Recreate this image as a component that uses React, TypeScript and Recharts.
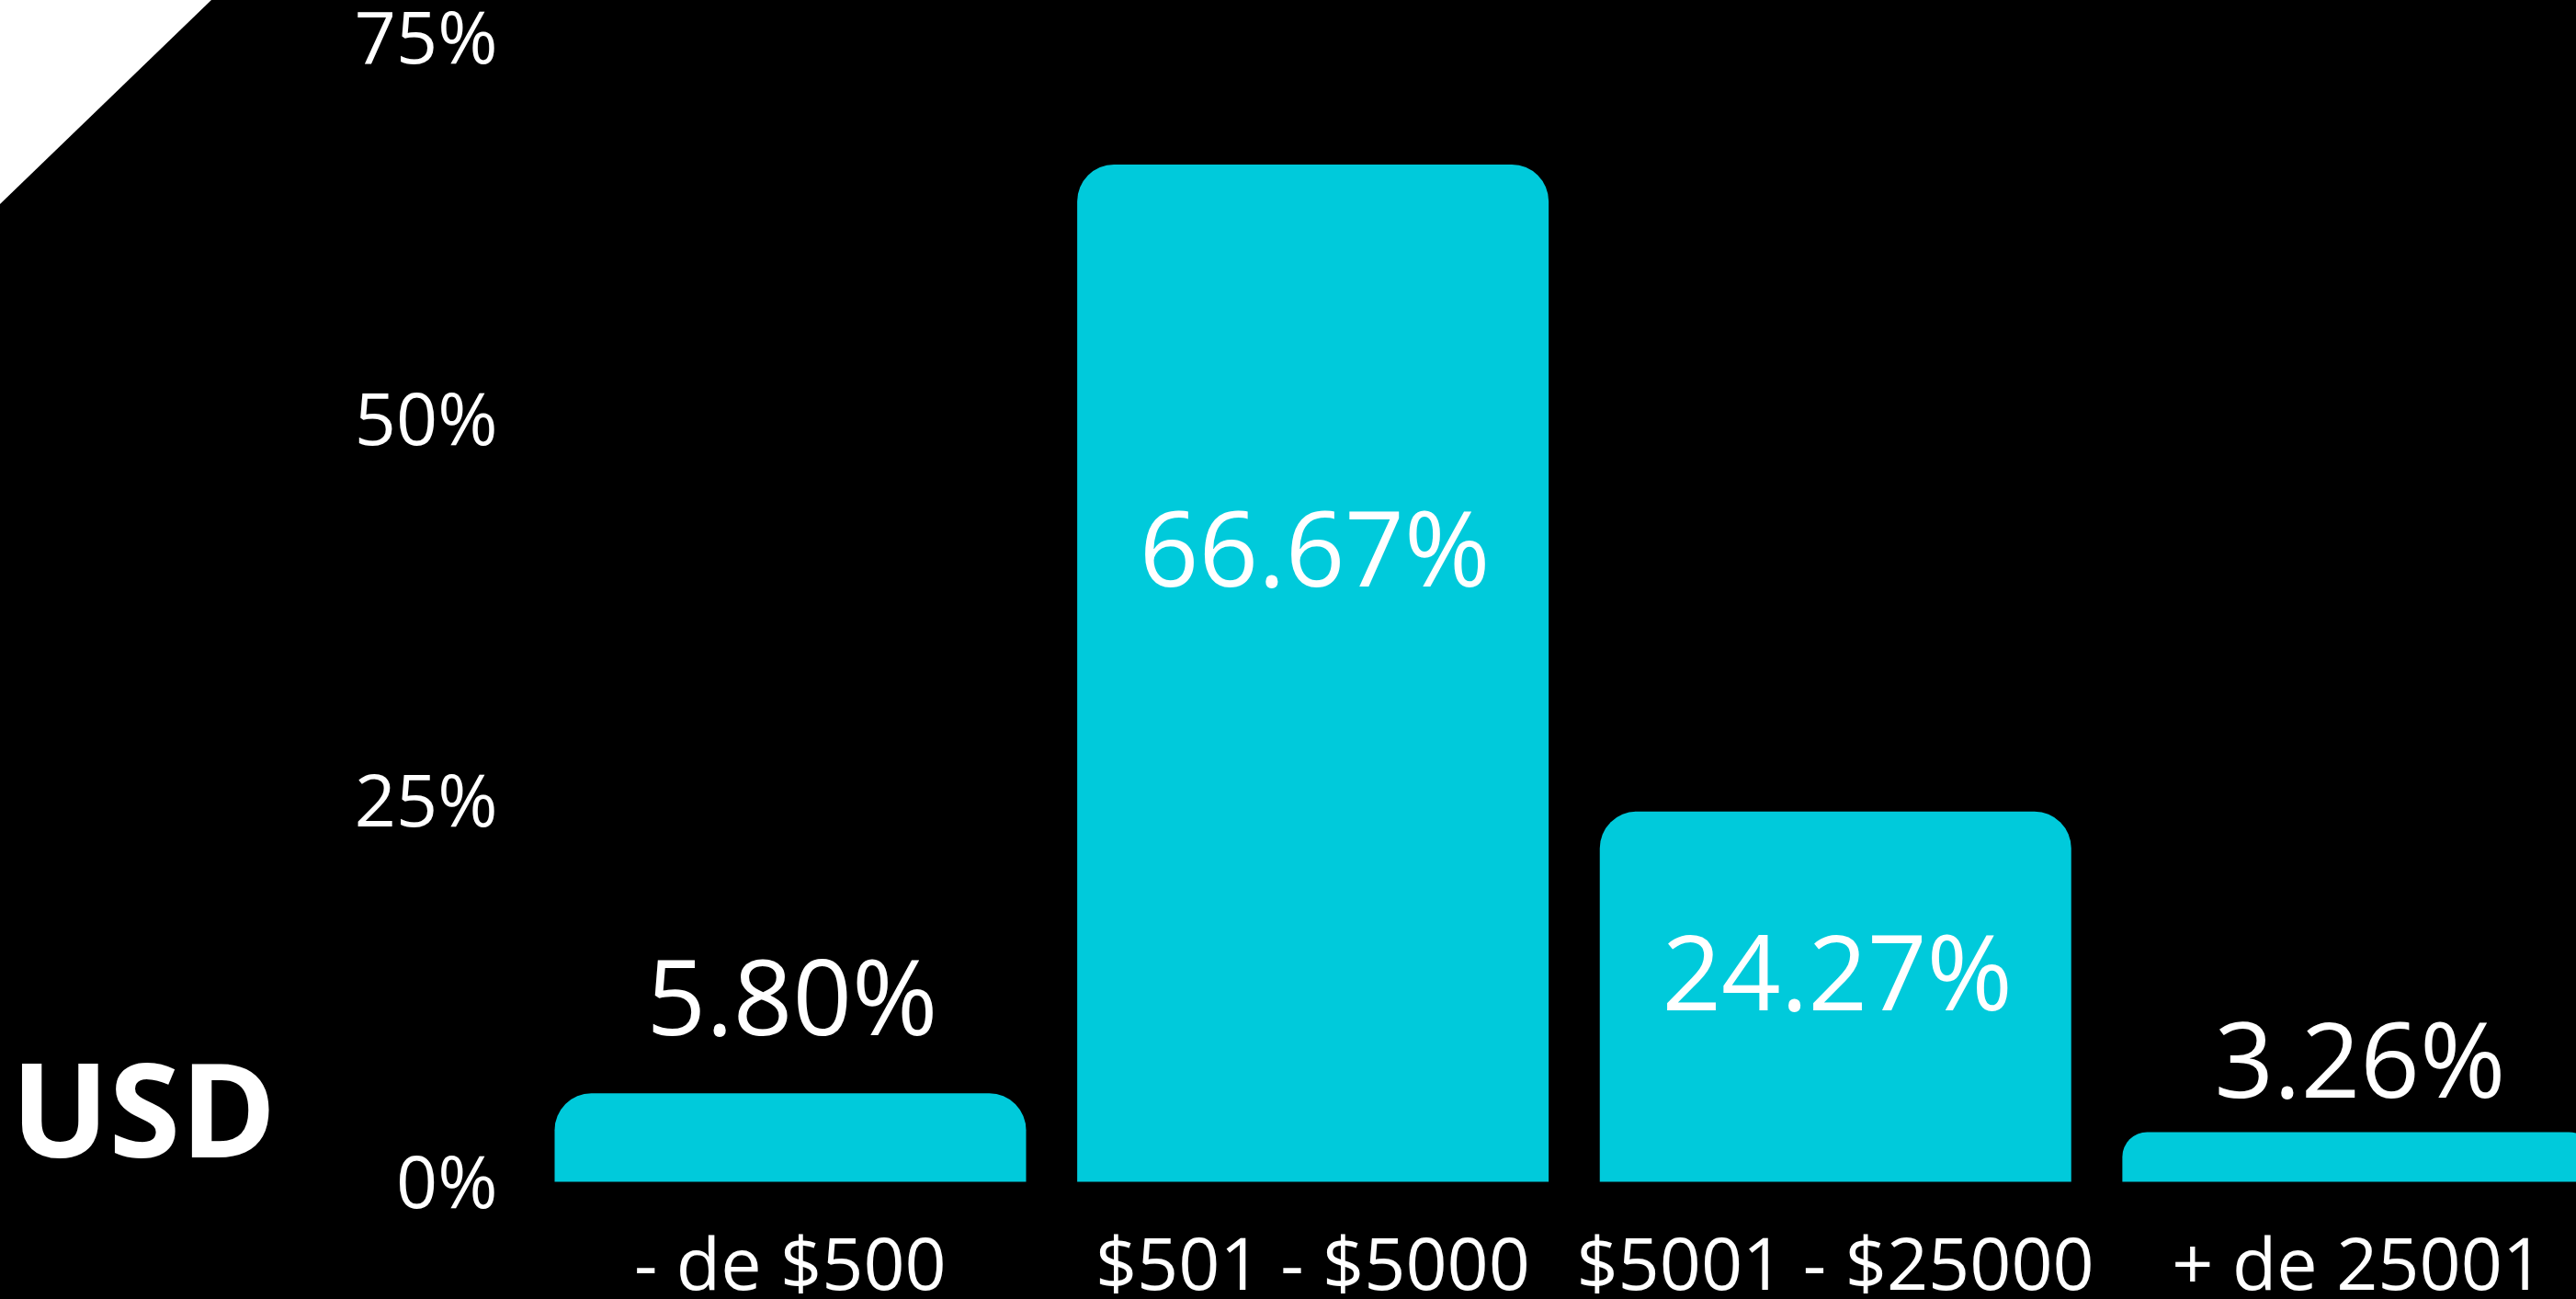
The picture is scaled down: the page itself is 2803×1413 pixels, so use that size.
import React from 'react';
import { BarChart, Bar, XAxis, YAxis, LabelList } from 'recharts';

const categories = ['- de $500', '$501 - $5000', '$5001 - $25000', '+ de 25001'];
const shares = [5.8, 66.67, 24.27, 3.26];
const shareLabels = ['5.80%', '66.67%', '24.27%', '3.26%'];
const yTicks = [0, 25, 50, 75];
const unitLabel = 'USD';

const data = categories.map((c, i) => ({ name: c, value: shares[i], label: shareLabels[i] }));

// styling: label baseline offset from the bar top, per bar
const LABEL_DY = [-63, 459, 216, -37];
const FONT = '"Open Sans", "DejaVu Sans", sans-serif';
const BAR_COLOR = '#00CADB';

const ValueLabel = (props: any) => {
  const { x, y, width, index } = props;
  const text = data[index]?.label ?? '';
  return (
    <text
      x={Number(x) + Number(width) / 2 + 2}
      y={Number(y) + LABEL_DY[index]}
      textAnchor="middle"
      fill="#ffffff"
      fontSize={113}
      fontFamily={FONT}
    >
      {text}
    </text>
  );
};

export default function App() {
  return (
    <div
      style={{
        position: 'fixed',
        left: 0,
        top: 0,
        width: 2803,
        height: 1413,
        overflow: 'hidden',
        background: '#000000',
      }}
    >
      <BarChart
        width={2900}
        height={1413}
        data={data}
        margin={{ top: 40.7, right: 50, left: 0, bottom: 27.5 }}
      >
        <YAxis
          width={575.5}
          domain={[0, 75]}
          ticks={yTicks}
          tickFormatter={(v: number) => `${v}%`}
          axisLine={false}
          tickLine={false}
          tickSize={0}
          tickMargin={34}
          tick={{ fill: '#ffffff', fontSize: 79, fontFamily: FONT }}
          interval={0}
        />
        <XAxis
          dataKey="name"
          height={100}
          axisLine={false}
          tickLine={false}
          tickSize={0}
          tickMargin={61}
          interval={0}
          tick={{ fill: '#ffffff', fontSize: 79, fontFamily: FONT }}
        />
        <Bar
          dataKey="value"
          fill={BAR_COLOR}
          barSize={513}
          radius={[40, 40, 0, 0]}
          isAnimationActive={false}
        >
          <LabelList dataKey="value" content={<ValueLabel />} />
        </Bar>
      </BarChart>
      <svg
        width={2803}
        height={1413}
        style={{ position: 'absolute', left: 0, top: 0, pointerEvents: 'none' }}
      >
        <polygon points="0,0 230,0 0,222" fill="#ffffff" />
        <text
          x={12}
          y={1259}
          fill="#ffffff"
          fontSize={141}
          fontWeight={700}
          fontFamily={FONT}
        >
          {unitLabel}
        </text>
      </svg>
    </div>
  );
}
